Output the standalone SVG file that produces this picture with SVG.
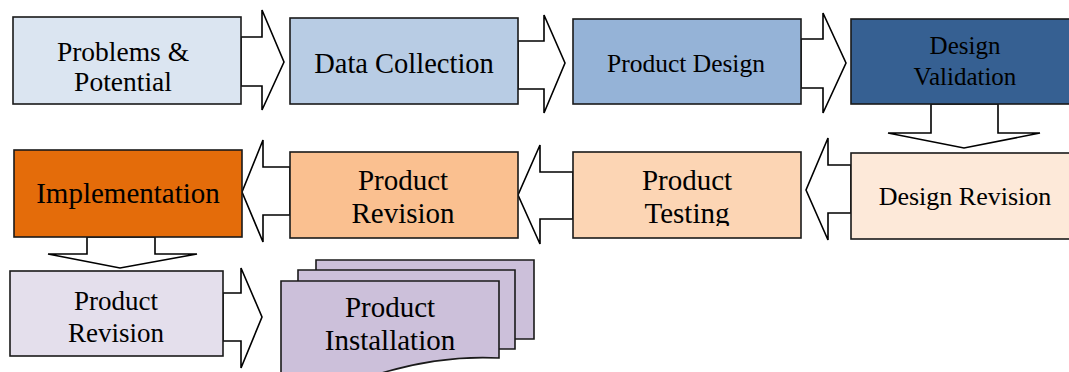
<svg xmlns="http://www.w3.org/2000/svg" width="1069" height="372" viewBox="0 0 1069 372">
<style>
.box{stroke:#1a1a1a;stroke-width:1.6}
.arr{fill:#ffffff;stroke:#000000;stroke-width:1.6;stroke-linejoin:miter}
text{font-family:"Liberation Serif","Times New Roman",serif;fill:#000000;text-anchor:middle}
</style>
<defs>
<clipPath id="clipTesting"><rect x="573" y="150" width="228" height="76"/></clipPath>
</defs>
<rect width="1069" height="372" fill="#ffffff"/>
<g id="connectors">
<polygon class="arr" points="241,37 262,37 262,10 284,62 262,110 262,86 241,86"/>
<polygon class="arr" points="518,41 544,41 544,15 565,63 544,113 544,89 518,89"/>
<polygon class="arr" points="801,39 823,39 823,13 846,63 823,113 823,88 801,88"/>
<polygon class="arr" points="931,104 998,104 998,133 1040,133 964,148 888,133 931,133"/>
<polygon class="arr" points="851,165 828,165 828,138 806,190 828,240 828,213 851,213"/>
<polygon class="arr" points="573,172 540,172 540,145 518,195 540,244 540,219 573,219"/>
<polygon class="arr" points="290,167 263,167 263,140 242,192 263,242 263,215 290,215"/>
<polygon class="arr" points="87,237 155,237 155,254 197,254 120,268 48,254 87,254"/>
<polygon class="arr" points="223,293 241,293 241,268 262,317 241,368 241,341 223,341"/>
</g>
<g id="node-problems">
<rect class="box" x="13" y="17" width="228" height="87" fill="#dbe5f1"/>
<text x="123" y="61" font-size="27.5">Problems &amp;</text>
<text x="123" y="91" font-size="27.5">Potential</text>
</g>
<g id="node-data-collection">
<rect class="box" x="290" y="18" width="228" height="86" fill="#b8cce4"/>
<text x="404" y="73" font-size="28.5">Data Collection</text>
</g>
<g id="node-product-design">
<rect class="box" x="573" y="19" width="228" height="85" fill="#95b3d7"/>
<text x="686" y="72" font-size="25.5">Product Design</text>
</g>
<g id="node-design-validation">
<rect class="box" x="851" y="19" width="230" height="85" fill="#366092"/>
<text x="965" y="54" font-size="25">Design</text>
<text x="965" y="85" font-size="25">Validation</text>
</g>
<g id="node-design-revision">
<rect class="box" x="851" y="153" width="230" height="86" fill="#fde9d9"/>
<text x="965" y="205" font-size="26">Design Revision</text>
</g>
<g id="node-product-testing">
<rect class="box" x="573" y="152" width="228" height="86" fill="#fcd5b4"/>
<g clip-path="url(#clipTesting)">
<text x="687" y="190" font-size="29">Product</text>
<text x="687" y="223" font-size="29">Testing</text>
</g>
</g>
<g id="node-product-revision-1">
<rect class="box" x="290" y="152" width="228" height="86" fill="#fac090"/>
<text x="403" y="190" font-size="29">Product</text>
<text x="403" y="223" font-size="29">Revision</text>
</g>
<g id="node-implementation">
<rect class="box" x="14" y="150" width="228" height="87" fill="#e46c0a"/>
<text x="128" y="203" font-size="29">Implementation</text>
</g>
<g id="node-product-revision-2">
<rect class="box" x="10" y="271" width="213" height="85" fill="#e4dfec"/>
<text x="116" y="310" font-size="27">Product</text>
<text x="116" y="342" font-size="27">Revision</text>
</g>
<g id="node-product-installation">
<path class="box" d="M316,260 H534 V339 H316 Z" fill="#ccc0da"/>
<path class="box" d="M298,270 H515 V349 H298 Z" fill="#ccc0da"/>
<path class="box" d="M281,281 H499 V358 C460,356 415,362 372,376 L281,400 Z" fill="#ccc0da"/>
<text x="390" y="317" font-size="29">Product</text>
<text x="390" y="350" font-size="29">Installation</text>
</g>
</svg>
